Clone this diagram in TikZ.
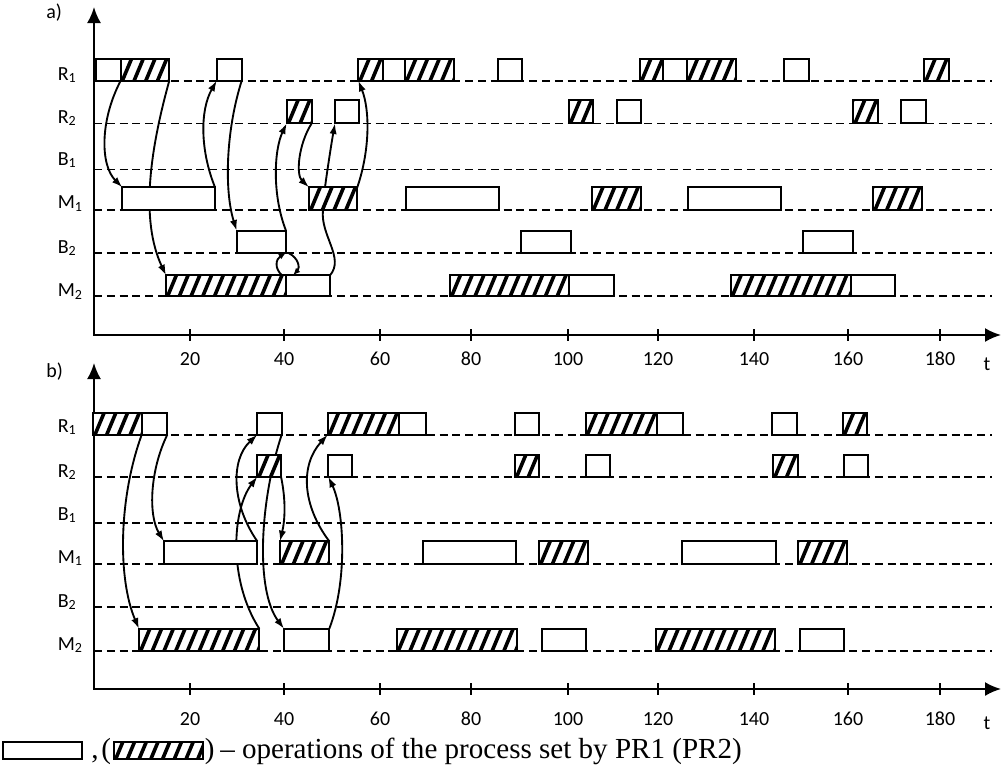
\documentclass[tikz,border=0pt]{standalone}
\usepackage{fontspec}
\setmainfont{Carlito}
\newfontfamily\tnr{Liberation Serif}
\usetikzlibrary{arrows.meta,fit,calc,backgrounds}
\tikzset{
 opw/.style={draw,line width=1.6pt,fill=white,inner sep=0pt,outer sep=0pt,rectangle},
 oph/.style={opw,path picture={\foreach \k in {-3,...,12}{\draw[line width=2.7pt,solid] ([xshift=\k*8.8pt,yshift=-3pt]path picture bounding box.south west) -- ++(9.6pt,23pt);}}},
 lane/.style={line width=1.2pt,dash pattern=on 6pt off 3.6pt},
 conn/.style={line width=1.4pt,-{Latex[length=8pt,width=5.5pt]}},
 smallconn/.style={line width=1.4pt,-{Latex[length=5.5pt,width=4.5pt]}},
 axisline/.style={line width=1.5pt,{Latex[length=12pt,width=10.5pt]}-{Latex[length=12pt,width=10.5pt]}},
 tickmark/.style={line width=1.5pt},
 lab/.style={font=\fontsize{15}{18}\selectfont,inner sep=0pt},
 leg/.style={font=\tnr\fontsize{21.8}{26}\selectfont,inner sep=0pt,anchor=base west},
}
\newcommand\wop[5]{\node[opw,fit={(#2,#4) (#3,#5)}] (#1) {};}
\newcommand\hop[5]{\node[oph,fit={(#2,#4) (#3,#5)}] (#1) {};}
\begin{document}
\begin{tikzpicture}[x=0.75pt,y=-0.75pt]
\useasboundingbox (0,0) rectangle (1005,769);

% ---------- axes (a) ----------
\coordinate (aYt) at (94,7);
\coordinate (aO) at (94,335);
\coordinate (aXt) at (1001,335);
\draw[axisline] (aYt) -- (aO) -- (aXt);
\foreach \x/\v in {190/20,284/40,380/60,471/80,568/100,658/120,754/140,848/160,940/180}{
  \draw[tickmark] (\x,329) -- (\x,341);
  \node[lab,anchor=base] (at\v) at (\x,365) {\v};
}
\node[lab,anchor=base] (aT) at (987,370) {t};
\node[lab,anchor=base west] (aTitle) at (46,18.5) {a)};

% ---------- axes (b) ----------
\coordinate (bYt) at (94,363);
\coordinate (bO) at (94,689);
\coordinate (bXt) at (1001,689);
\draw[axisline] (bYt) -- (bO) -- (bXt);
\foreach \x/\v in {190/20,284/40,380/60,471/80,568/100,658/120,754/140,848/160,940/180}{
  \draw[tickmark] (\x,683) -- (\x,695);
  \node[lab,anchor=base] (bt\v) at (\x,725) {\v};
}
\node[lab,anchor=base] (bT) at (987,729) {t};
\node[lab,anchor=base west] (bTitle) at (46,377.5) {b)};

% ---------- lane labels ----------
\node[lab,anchor=base west] (aLR1) at (57.5,80) {R\textsubscript{1}};
\node[lab,anchor=base west] (aLR2) at (57.5,123) {R\textsubscript{2}};
\node[lab,anchor=base west] (aLB1) at (57.5,165) {B\textsubscript{1}};
\node[lab,anchor=base west] (aLM1) at (57.5,208.3) {M\textsubscript{1}};
\node[lab,anchor=base west] (aLB2) at (57.5,253) {B\textsubscript{2}};
\node[lab,anchor=base west] (aLM2) at (57.5,296.5) {M\textsubscript{2}};
\node[lab,anchor=base west] (bLR1) at (57.5,432) {R\textsubscript{1}};
\node[lab,anchor=base west] (bLR2) at (57.5,477) {R\textsubscript{2}};
\node[lab,anchor=base west] (bLB1) at (57.5,520) {B\textsubscript{1}};
\node[lab,anchor=base west] (bLM1) at (57.5,563) {M\textsubscript{1}};
\node[lab,anchor=base west] (bLB2) at (57.5,607) {B\textsubscript{2}};
\node[lab,anchor=base west] (bLM2) at (57.5,650) {M\textsubscript{2}};

% ---------- boxes (a) ----------
\wop{aR1w1}{95.7}{120.7}{58.7}{80.7}
\hop{aR1h1}{120.7}{169.3}{58.7}{80.7}
\wop{aR1w2}{216.7}{241.7}{58.7}{80.7}
\hop{aR1h2}{358.3}{382.7}{58.7}{80.7}
\wop{aR1w3}{382.7}{405}{58.7}{80.7}
\hop{aR1h3}{405}{454}{58.7}{80.7}
\wop{aR1w4}{497.7}{522.3}{58.7}{80.7}
\hop{aR1h4}{640}{662.7}{58.7}{80.7}
\wop{aR1w5}{662.7}{686.7}{58.7}{80.7}
\hop{aR1h5}{686.7}{735.7}{58.7}{80.7}
\wop{aR1w6}{784}{809}{58.7}{80.7}
\hop{aR1h6}{924.3}{949.3}{58.7}{80.7}

\hop{aR2h1}{286.7}{311.7}{100}{123.3}
\wop{aR2w1}{335}{359.3}{100}{123.3}
\hop{aR2h2}{568.7}{593.3}{100}{123.3}
\wop{aR2w2}{616.7}{641.3}{100}{123.3}
\hop{aR2h3}{853.3}{878.3}{100}{123.3}
\wop{aR2w3}{901}{925.7}{100}{123.3}

\wop{aM1w1}{122.3}{215}{187.3}{210}
\hop{aM1h1}{309}{357.3}{187.3}{210}
\wop{aM1w2}{406}{499}{187.3}{210}
\hop{aM1h2}{591.7}{641}{187.3}{210}
\wop{aM1w3}{687.7}{781}{187.3}{210}
\hop{aM1h3}{873.3}{922.3}{187.3}{210}

\wop{aB2w1}{236.7}{286}{230.7}{252.7}
\wop{aB2w2}{521}{571}{230.7}{252.7}
\wop{aB2w3}{803.3}{852.7}{230.7}{252.7}

\hop{aM2h1}{166}{286}{275.3}{296}
\wop{aM2w1}{286}{330}{275.3}{296}
\hop{aM2h2}{450}{569.3}{275.3}{296}
\wop{aM2w2}{569.3}{614}{275.3}{296}
\hop{aM2h3}{730.7}{850.7}{275.3}{296}
\wop{aM2w3}{850.7}{895}{275.3}{296}

% ---------- boxes (b) ----------
\hop{bR1h1}{93.3}{141.7}{412.7}{434.7}
\wop{bR1w1}{141.7}{167.3}{412.7}{434.7}
\wop{bR1w2}{257.3}{281.7}{412.7}{434.7}
\hop{bR1h2}{327.7}{399.3}{412.7}{434.7}
\wop{bR1w3}{399.3}{425.7}{412.7}{434.7}
\wop{bR1w4}{515}{539.3}{412.7}{434.7}
\hop{bR1h3}{585.7}{656.7}{412.7}{434.7}
\wop{bR1w5}{656.7}{683.3}{412.7}{434.7}
\wop{bR1w6}{772.3}{796.7}{412.7}{434.7}
\hop{bR1h4}{842.7}{867.3}{412.7}{434.7}

\hop{bR2h1}{257.3}{281}{455.3}{476.7}
\wop{bR2w1}{328.3}{351.7}{455.3}{476.7}
\hop{bR2h2}{515}{539.3}{455.3}{476.7}
\wop{bR2w2}{585.7}{610}{455.3}{476.7}
\hop{bR2h3}{773.3}{798.3}{455.3}{476.7}
\wop{bR2w3}{844}{868.3}{455.3}{476.7}

\wop{bM1w1}{164}{257.3}{541.3}{564}
\hop{bM1h1}{280}{329.3}{541.3}{564}
\wop{bM1w2}{422.7}{516}{541.3}{564}
\hop{bM1h2}{539}{587.7}{541.3}{564}
\wop{bM1w3}{682.3}{775.7}{541.3}{564}
\hop{bM1h3}{798.3}{846.7}{541.3}{564}

\hop{bM2h1}{139}{259.3}{628.7}{650.7}
\wop{bM2w1}{284}{329.3}{628.7}{650.7}
\hop{bM2h2}{396.7}{516.7}{628.7}{650.7}
\wop{bM2w2}{541.7}{586}{628.7}{650.7}
\hop{bM2h3}{655.7}{775}{628.7}{650.7}
\wop{bM2w3}{800}{844.3}{628.7}{650.7}

% ---------- legend ----------
\wop{lgw}{3}{82}{742}{759}
\hop{lgh}{114}{203}{742}{759}
\node[leg] (lgc) at (91,758) {,};
\node[leg] (lgo) at (101,758) {(};
\node[leg] (lgp) at (204.5,758) {)};
\node[leg] (lgt) at (220,758) {– operations of the process set by PR1 (PR2)};

% ---------- lanes and connectors ----------
\begin{scope}[on background layer]
\foreach \y in {80.7,123.3,169.3,210,252.7,296,434.7,476.7,522.7,564,606.7,650.7}
  \draw[lane] (94,\y) -- (992,\y);

\draw[conn] (aR1h1.south west) .. controls (100,120) and (100,165) .. (aM1w1.north west);
\draw[conn] (aR1h1.south east) .. controls (150,150) and (140,220) .. (aM2h1.north west);
\draw[conn] (aM1w1.north east) .. controls (200,150) and (200,110) .. (aR1w2.south west);
\draw[conn] (aR1w2.south east) .. controls (226,130) and (224,190) .. (aB2w1.north west);
\draw[conn] (aB2w1.north east) .. controls (272,195) and (274,150) .. (aR2h1.south west);
\draw[smallconn] ($(aM2h1.north east)+(-4,0)$) .. controls (274,268) and (276,259) .. (aB2w1.south east);
\draw[smallconn] ($(aB2w1.south east)+(2,0)$) .. controls (299,258) and (300,268) .. ($(aM2w1.north west)+(7,0)$);
\draw[conn] (aR2h1.south east) .. controls (298,145) and (296,175) .. (aM1h1.north west);
\draw[conn] ($(aM1h1.north west)+(16,0)$) .. controls (328,165) and (332,140) .. (aR2w1.south west);
\draw[conn] (aM2w1.north east) .. controls (345,258) and (320,235) .. ($(aM1h1.south west)+(14,0)$) -- (aM1h1.north east) .. controls (370,150) and (370,110) .. (aR1h2.south west);

\draw[conn] (bR1h1.south east) .. controls (118,500) and (118,580) .. (bM2h1.north west);
\draw[conn] (bR1w1.south east) .. controls (150,470) and (148,515) .. (bM1w1.north west);
\draw[conn] (bM1w1.north east) .. controls (232,505) and (230,460) .. (bR1w2.south west);
\draw[conn] (bM2h1.north east) .. controls (228,580) and (232,510) .. (bR2h1.south west);
\draw[conn] (bR1w2.south east) .. controls (260,500) and (255,590) .. (bM2w1.north west);
\draw[conn] (bR2h1.south east) .. controls (286,500) and (285,520) .. (bM1h1.north west);
\draw[conn] (bM1h1.north east) .. controls (302,505) and (300,465) .. (bR1h2.south west);
\draw[conn] (bM2w1.north east) .. controls (348,580) and (344,510) .. (bR2w1.south west);
\end{scope}
\end{tikzpicture}
\end{document}
